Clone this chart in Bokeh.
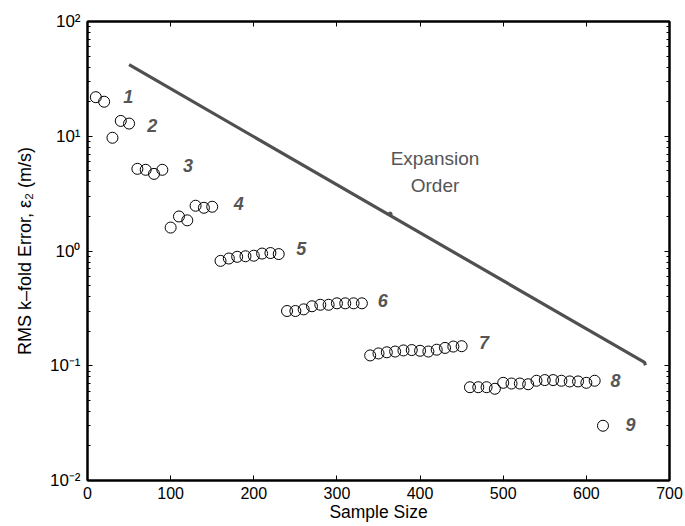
from bokeh.plotting import figure
from bokeh.models import (ColumnDataSource, FixedTicker, LinearAxis, LogAxis,
                          Range1d)
from bokeh.core.properties import value
from bokeh.embed import file_html
from bokeh.resources import INLINE

# ---- data: RMS k-fold error per sample size, grouped by expansion order ----
order1_x = [10, 20]
order1_y = [21.9, 20.0]
order2_x = [30, 40, 50]
order2_y = [9.7, 13.6, 12.9]
order3_x = [60, 70, 80, 90]
order3_y = [5.2, 5.1, 4.7, 5.1]
order4_x = [100, 110, 120, 130, 140, 150]
order4_y = [1.6, 2.0, 1.85, 2.48, 2.38, 2.43]
order5_x = [160, 170, 180, 190, 200, 210, 220, 230]
order5_y = [0.82, 0.86, 0.89, 0.90, 0.91, 0.95, 0.96, 0.94]
order6_x = [240, 250, 260, 270, 280, 290, 300, 310, 320, 330]
order6_y = [0.30, 0.30, 0.31, 0.33, 0.34, 0.34, 0.35, 0.35, 0.35, 0.35]
order7_x = [340, 350, 360, 370, 380, 390, 400, 410, 420, 430, 440, 450]
order7_y = [0.123, 0.128, 0.131, 0.133, 0.136, 0.137, 0.135, 0.133,
            0.138, 0.143, 0.147, 0.148]
order8_x = [460, 470, 480, 490, 500, 510, 520, 530, 540, 550, 560, 570,
            580, 590, 600, 610]
order8_y = [0.065, 0.065, 0.065, 0.063, 0.071, 0.070, 0.070, 0.069,
            0.074, 0.075, 0.075, 0.074, 0.073, 0.073, 0.071, 0.074]
order9_x = [620]
order9_y = [0.030]

order_names = ["1", "2", "3", "4", "5", "6", "7", "8", "9"]

# trend line of the expansion order
trend_x = [50, 670, 671]
trend_y = [42.0, 0.107, 0.101]

# axis ticks
x_ticks = [0, 100, 200, 300, 400, 500, 600, 700]
y_ticks = [0.01, 0.1, 1, 10, 100]
y_tick_labels = ["10\u207b\u00b2", "10\u207b\u00b9", "10\u2070", "10\u00b9", "10\u00b2"]

# ---- placement of the order numbers and annotation text ----
label_x = [49, 78, 121, 182, 257, 355, 477, 635, 653]
label_y = [22, 12.4, 5.6, 2.6, 1.05, 0.37, 0.16, 0.074, 0.031]

FONT = "Liberation Sans"
GREY = "#555555"

all_x = (order1_x + order2_x + order3_x + order4_x + order5_x + order6_x +
         order7_x + order8_x + order9_x)
all_y = (order1_y + order2_y + order3_y + order4_y + order5_y + order6_y +
         order7_y + order8_y + order9_y)

p = figure(width=685, height=526, output_backend="svg", toolbar_location=None,
           y_axis_type="log", x_range=Range1d(0, 700), y_range=Range1d(0.01, 100))
p.min_border_left = 87
p.min_border_right = 16
p.min_border_top = 21
p.min_border_bottom = 46
p.background_fill_color = "white"
p.border_fill_color = "white"
p.grid.visible = False
p.outline_line_color = "black"
p.outline_line_width = 2

minor = [m * 10.0 ** e for e in range(-2, 2) for m in range(2, 10)]

# bottom / left axes
xa = p.xaxis[0]
xa.ticker = FixedTicker(ticks=x_ticks)
xa.axis_label = "Sample Size"
ya = p.yaxis[0]
ya.ticker = FixedTicker(ticks=y_ticks, minor_ticks=minor)
ya.major_label_overrides = {t: l for t, l in zip(y_ticks, y_tick_labels)}
ya.axis_label = "RMS k\u2013fold Error, \u03b5\u2082 (m/s)"

# box axes on top and right, ticks only
top = LinearAxis(ticker=FixedTicker(ticks=x_ticks),
                 major_label_overrides={t: "" for t in x_ticks})
right = LogAxis(ticker=FixedTicker(ticks=y_ticks, minor_ticks=minor),
                major_label_overrides={t: "" for t in y_ticks})
p.add_layout(top, "above")
p.add_layout(right, "right")

for ax in [xa, ya, top, right]:
    ax.axis_line_color = "black"
    ax.axis_line_width = 2
    ax.major_tick_in = 5
    ax.major_tick_out = 0
    ax.minor_tick_in = 3
    ax.minor_tick_out = 0
    ax.major_tick_line_color = "black"
    ax.minor_tick_line_color = "black"
    ax.major_label_text_font = FONT
    ax.major_label_text_font_size = "16px"
    ax.major_label_text_color = "black"
    ax.axis_label_text_font = FONT
    ax.axis_label_text_font_size = "17.5px"
    ax.axis_label_text_font_style = "normal"
    ax.axis_label_text_color = "black"
for ax in [xa, top]:
    ax.minor_tick_line_color = None
ya.major_label_text_font_size = "17px"
ya.axis_label_text_font_size = "18px"
top.major_label_standoff = 0
right.major_label_standoff = 0
xa.major_label_standoff = 6
xa.axis_label_standoff = 0
ya.major_label_standoff = 7
ya.axis_label_standoff = 12

# trend line
p.line(trend_x, trend_y, line_color="#505050", line_width=3.2)
p.scatter([364], [2.1], size=4, color="#505050")

# samples
src = ColumnDataSource(dict(x=all_x, y=all_y))
p.scatter("x", "y", source=src, marker="circle", size=11, fill_color=None,
          line_color="black", line_width=1)

# order numbers
p.text(label_x, label_y, text=order_names, text_font=value(FONT),
       text_font_size="18px", text_font_style="bold italic", text_color=GREY,
       text_align="center", text_baseline="middle")

# annotation
p.text([418, 418], [6.4, 3.73], text=["Expansion", "Order"], text_font=value(FONT),
       text_font_size="19px", text_color=GREY, text_align="center",
       text_baseline="middle")

open("out.html", "w").write(file_html(p, INLINE))
